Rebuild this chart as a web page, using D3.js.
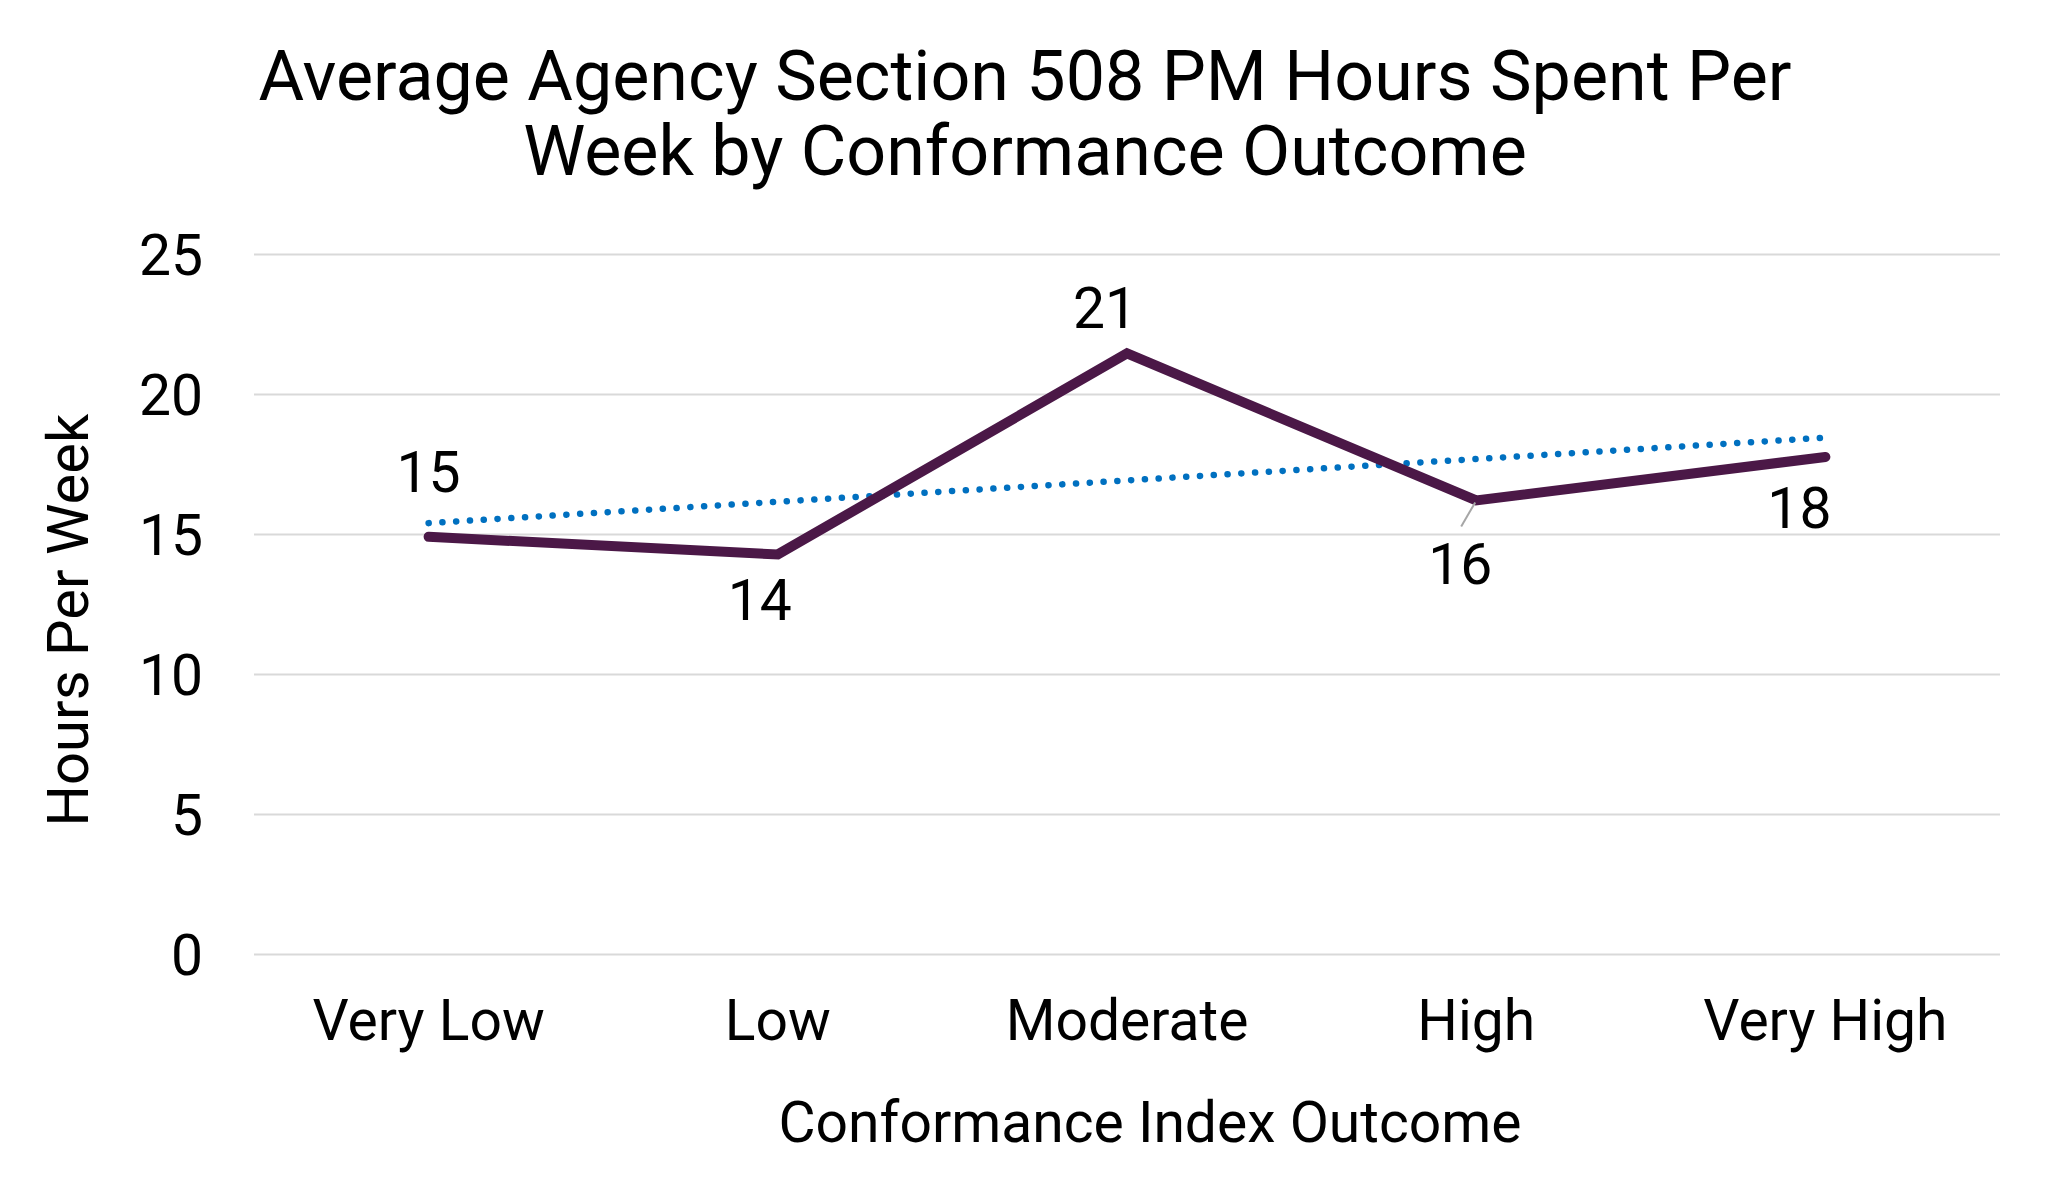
<!DOCTYPE html>
<html>
<head>
<meta charset="utf-8">
<script src="https://cdn.jsdelivr.net/npm/d3@7"></script>
<style>
  body { margin: 0; background: #fff; }
  text { font-family: Roboto, "Liberation Sans", sans-serif; fill: #000; }
</style>
</head>
<body>
<div id="chart"></div>
<script>
// data
var categories = ["Very Low", "Low", "Moderate", "High", "Very High"];
var hours = [14.9, 14.27, 21.45, 16.2, 17.75];
var hourLabels = ["15", "14", "21", "16", "18"];
var yTicks = [0, 5, 10, 15, 20, 25];

// where each data label sits relative to its point
var labelOffsets = [[0, -45], [-18, 66], [-22, -25], [-16, 84], [-26, 71]];

var W = 2052, H = 1191;
var margin = {top: 254, right: 52, bottom: 237, left: 254},
    width = W - margin.left - margin.right,
    height = H - margin.top - margin.bottom;

var svg = d3.select("#chart").append("svg")
    .attr("width", W)
    .attr("height", H);

svg.append("rect").attr("width", W).attr("height", H).attr("fill", "#fff");

var g = svg.append("g")
    .attr("transform", "translate(" + margin.left + "," + margin.top + ")");

var x = d3.scaleBand().domain(categories).range([0, width]);
var y = d3.scaleLinear().domain([0, 25]).range([height, 0]);

//gridlines + y labels
var yAxis = g.append("g")
    .call(d3.axisLeft(y).tickValues(yTicks).tickSize(-width).tickPadding(51));
yAxis.select(".domain").remove();
yAxis.selectAll("line").attr("stroke", "#d9d9d9").attr("stroke-width", 2);
yAxis.selectAll("text")
    .style("font-size", "57px")
    .attr("dy", "0.36em");

//x labels
var xAxis = g.append("g")
    .attr("transform", "translate(0," + height + ")")
    .call(d3.axisBottom(x).tickSize(0).tickPadding(46));
xAxis.select(".domain").remove();
xAxis.selectAll("text").style("font-size", "57px");

var cx = function(i) { return x(categories[i]) + x.bandwidth() / 2; };

//linear trendline (least squares over category index)
var n = hours.length,
    mx = d3.mean(hours, function(d, i) { return i; }),
    my = d3.mean(hours);
var slope = d3.sum(hours, function(d, i) { return (i - mx) * (d - my); }) /
            d3.sum(hours, function(d, i) { return (i - mx) * (i - mx); });
var trend = [0, n - 1].map(function(i) { return [i, my + slope * (i - mx)]; });

g.append("path")
    .datum(trend)
    .attr("fill", "none")
    .attr("stroke", "#0070c0")
    .attr("stroke-width", 6.5)
    .attr("stroke-linecap", "round")
    .attr("stroke-dasharray", "0.1 13.7")
    .attr("d", d3.line()
        .x(function(d) { return cx(d[0]); })
        .y(function(d) { return y(d[1]); }));

//main line
g.append("path")
    .datum(hours)
    .attr("fill", "none")
    .attr("stroke", "#4b1847")
    .attr("stroke-width", 10)
    .attr("stroke-linecap", "round")
    .attr("stroke-linejoin", "miter")
    .attr("d", d3.line()
        .x(function(d, i) { return cx(i); })
        .y(function(d) { return y(d); }));

//leader line for the "16" label
g.append("line")
    .attr("x1", cx(3) - 1).attr("y1", y(hours[3]) + 2)
    .attr("x2", cx(3) - 15).attr("y2", y(hours[3]) + 26)
    .attr("stroke", "#a6a6a6")
    .attr("stroke-width", 2);

//data labels
g.selectAll("text.label")
    .data(hours)
  .enter().append("text")
    .attr("class", "label")
    .attr("x", function(d, i) { return cx(i) + labelOffsets[i][0]; })
    .attr("y", function(d, i) { return y(d) + labelOffsets[i][1]; })
    .attr("text-anchor", "middle")
    .style("font-size", "57px")
    .text(function(d, i) { return hourLabels[i]; });

//titles
svg.append("text")
    .attr("x", 1025).attr("y", 100)
    .attr("text-anchor", "middle")
    .style("font-size", "70px")
    .text("Average Agency Section 508 PM Hours Spent Per");
svg.append("text")
    .attr("x", 1025).attr("y", 175)
    .attr("text-anchor", "middle")
    .style("font-size", "70px")
    .text("Week by Conformance Outcome");

svg.append("text")
    .attr("x", 1150).attr("y", 1142)
    .attr("text-anchor", "middle")
    .style("font-size", "57px")
    .text("Conformance Index Outcome");

svg.append("text")
    .attr("transform", "translate(88,620) rotate(-90)")
    .attr("text-anchor", "middle")
    .style("font-size", "58px")
    .text("Hours Per Week");
</script>
</body>
</html>
